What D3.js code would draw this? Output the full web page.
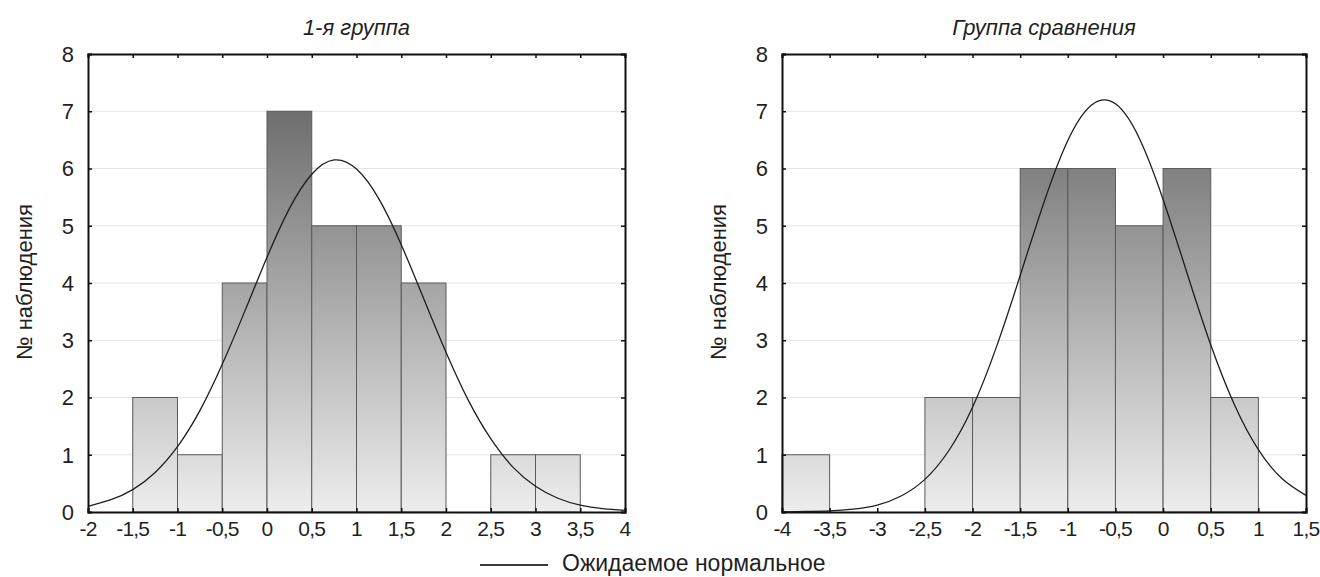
<!DOCTYPE html>
<html>
<head>
<meta charset="utf-8">
<script src="https://cdnjs.cloudflare.com/ajax/libs/d3/7.8.5/d3.min.js"></script>
<style>
  body { margin: 0; background: #fff; }
  text { font-family: "Liberation Sans", Arial, sans-serif; fill: #1f1f1f; }
</style>
</head>
<body>
<script>
// Data
var titles = ["1-я группа", "Группа сравнения"];
var yTicks = [0, 1, 2, 3, 4, 5, 6, 7, 8];

// bins: [left edge, right edge, count]
var bins1 = [[-1.5, -1, 2], [-1, -0.5, 1], [-0.5, 0, 4], [0, 0.5, 7], [0.5, 1, 5],
             [1, 1.5, 5], [1.5, 2, 4], [2.5, 3, 1], [3, 3.5, 1]];
var bins2 = [[-4, -3.5, 1], [-2.5, -2, 2], [-2, -1.5, 2], [-1.5, -1, 6], [-1, -0.5, 6],
             [-0.5, 0, 5], [0, 0.5, 6], [0.5, 1, 2]];

var xTicks1 = [-2, -1.5, -1, -0.5, 0, 0.5, 1, 1.5, 2, 2.5, 3, 3.5, 4];
var xTicks2 = [-4, -3.5, -3, -2.5, -2, -1.5, -1, -0.5, 0, 0.5, 1, 1.5];

// expected normal curve, read every 0.25
var curveX1 = [-2, -1.75, -1.5, -1.25, -1, -0.75, -0.5, -0.25, 0, 0.25, 0.5, 0.75, 1,
               1.25, 1.5, 1.75, 2, 2.25, 2.5, 2.75, 3, 3.25, 3.5, 3.75, 4];
var curveY1 = [0.10, 0.21, 0.39, 0.69, 1.14, 1.77, 2.58, 3.50, 4.45, 5.30, 5.90, 6.15, 5.99,
               5.47, 4.67, 3.73, 2.79, 1.95, 1.28, 0.78, 0.45, 0.24, 0.12, 0.06, 0.03];
var curveX2 = [-4, -3.75, -3.5, -3.25, -3, -2.75, -2.5, -2.25, -2, -1.75, -1.5, -1.25, -1,
               -0.75, -0.5, -0.25, 0, 0.25, 0.5, 0.75, 1, 1.25, 1.5];
var curveY2 = [0.00, 0.01, 0.02, 0.05, 0.12, 0.28, 0.57, 1.07, 1.83, 2.88, 4.13, 5.41, 6.49,
               7.11, 7.13, 6.53, 5.46, 4.18, 2.92, 1.87, 1.09, 0.58, 0.29];

var legendLabel = "Ожидаемое нормальное";
var yLabel = "№ наблюдения";

var svg = d3.select("body").append("svg")
  .attr("width", 1320)
  .attr("height", 577);

var fmt = function(d) { return String(d).replace(".", ","); };

function drawPanel(p) {
  var x = d3.scaleLinear().domain(p.xDomain).range([p.left, p.right]);
  var y = d3.scaleLinear().domain([0, 8]).range([512, 54]);

  // gradient tied to plot height so taller bars get darker tops
  var grad = svg.append("defs").append("linearGradient")
    .attr("id", p.id)
    .attr("gradientUnits", "userSpaceOnUse")
    .attr("x1", 0).attr("x2", 0)
    .attr("y1", y(8)).attr("y2", y(0));
  grad.append("stop").attr("offset", 0).attr("stop-color", "#5c5c5c");
  grad.append("stop").attr("offset", 1).attr("stop-color", "#ededed");

  var g = svg.append("g");

  // grid lines
  g.selectAll(".grid").data(yTicks.slice(1, -1)).enter().append("line")
    .attr("x1", p.left).attr("x2", p.right)
    .attr("y1", function(d) { return y(d); })
    .attr("y2", function(d) { return y(d); })
    .attr("stroke", "#e4e4e4").attr("stroke-width", 1);

  // bars
  g.selectAll(".bar").data(p.bins).enter().append("rect")
    .attr("x", function(d) { return x(d[0]); })
    .attr("y", function(d) { return y(d[2]); })
    .attr("width", function(d) { return x(d[1]) - x(d[0]); })
    .attr("height", function(d) { return y(0) - y(d[2]); })
    .attr("fill", "url(#" + p.id + ")")
    .attr("stroke", "#5a5a5a").attr("stroke-width", 1);

  // expected normal
  var line = d3.line()
    .x(function(d, i) { return x(p.cx[i]); })
    .y(function(d) { return y(d); })
    .curve(d3.curveNatural);
  g.append("path")
    .attr("d", line(p.cy))
    .attr("fill", "none")
    .attr("stroke", "#1e1e1e")
    .attr("stroke-width", 1.3);

  // axes (ticks pointing inward)
  var axB = g.append("g").attr("transform", "translate(0," + y(0) + ")")
    .call(d3.axisTop(x).tickValues(p.xTicks).tickSize(4).tickFormat(""));
  var axT = g.append("g").attr("transform", "translate(0," + y(8) + ")")
    .call(d3.axisBottom(x).tickValues(p.xTicks).tickSize(4).tickFormat(""));
  var axL = g.append("g").attr("transform", "translate(" + p.left + ",0)")
    .call(d3.axisRight(y).tickValues(yTicks).tickSize(4).tickFormat(""));
  var axR = g.append("g").attr("transform", "translate(" + p.right + ",0)")
    .call(d3.axisLeft(y).tickValues(yTicks).tickSize(4).tickFormat(""));
  [axB, axT, axL, axR].forEach(function(a) {
    a.selectAll(".domain").attr("stroke", "#111").attr("stroke-width", 2);
    a.selectAll(".tick line").attr("stroke", "#111").attr("stroke-width", 1.5);
  });

  // tick labels
  g.selectAll(".xl").data(p.xTicks).enter().append("text")
    .attr("x", function(d) { return x(d); })
    .attr("y", 536)
    .attr("text-anchor", "middle")
    .style("font-size", "21px")
    .style("letter-spacing", "-0.8px")
    .text(fmt);
  g.selectAll(".yl").data(yTicks).enter().append("text")
    .attr("x", p.left - 14)
    .attr("y", function(d) { return y(d) + 7.8; })
    .attr("text-anchor", "end")
    .style("font-size", "22px")
    .text(fmt);

  // title
  g.append("text")
    .attr("x", (p.left + p.right) / 2)
    .attr("y", 35)
    .attr("text-anchor", "middle")
    .style("font-size", "22px")
    .style("font-style", "italic")
    .text(p.title);

  // y-axis label
  g.append("text")
    .attr("transform", "translate(" + (p.left - 56) + ",282) rotate(-90)")
    .attr("text-anchor", "middle")
    .style("font-size", "22px")
    .text(yLabel);
}

drawPanel({ id: "g1", title: titles[0], bins: bins1, xDomain: [-2, 4], xTicks: xTicks1,
            cx: curveX1, cy: curveY1, left: 88, right: 625 });
drawPanel({ id: "g2", title: titles[1], bins: bins2, xDomain: [-4, 1.5], xTicks: xTicks2,
            cx: curveX2, cy: curveY2, left: 782, right: 1306 });

// legend
svg.append("line")
  .attr("x1", 480).attr("x2", 548)
  .attr("y1", 565).attr("y2", 565)
  .attr("stroke", "#3a3a3a").attr("stroke-width", 2);
svg.append("text")
  .attr("x", 562).attr("y", 571)
  .style("font-size", "23px")
  .text(legendLabel);
</script>
</body>
</html>
